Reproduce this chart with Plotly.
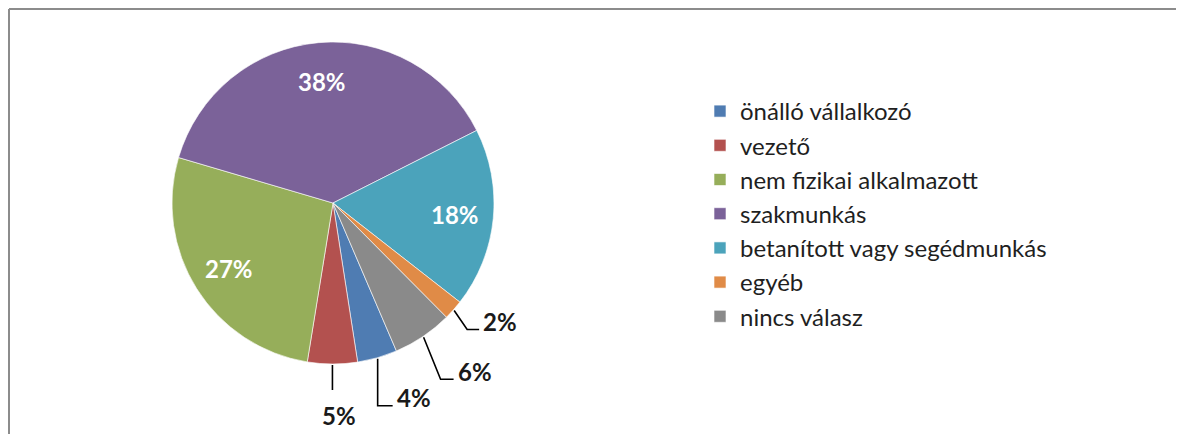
import math
import plotly.graph_objects as go

# ---- data ----
categories = ["önálló vállalkozó", "vezető", "nem fizikai alkalmazott", "szakmunkás",
              "betanított vagy segédmunkás", "egyéb", "nincs válasz"]
values = [4, 5, 27, 38, 18, 2, 6]
colors = ["#4f7cb2", "#b3514f", "#96ae5a", "#7b6299", "#4ba3bb", "#e08b47", "#8a8a8a"]
label_texts = [f"{v}%" for v in values]

# ---- geometry / style (page pixel coordinates) ----
W, H = 1184, 434
OFF = 8                             # page body margin
cx, cy, R = 333, 203, 161          # pie centre and radius on the page
rotation = 156.8                    # start angle of first slice (clockwise from 12 o'clock)
inside_frac = 0.76                  # radius fraction for inside labels
FONT = "Lato"
LBL_SIZE = 24

# leader-line style for small slices: (elbow dx, elbow dy, horizontal length, text mode)
leader = {
    "önálló vállalkozó": (0, 47, 15, "right"),
    "vezető": (0, 25, 0, "below"),
    "egyéb": (13, 19, 12, "right"),
    "nincs válasz": (17, 42, 13, "right"),
}


def px2paper(x, y):
    return (x - OFF) / W, 1 - (y - OFF) / H


fig = go.Figure()
d0 = px2paper(cx - R, cy + R)
d1 = px2paper(cx + R, cy - R)
fig.add_trace(go.Pie(
    labels=categories, values=values, sort=False, direction="clockwise",
    rotation=rotation, textinfo="none", hoverinfo="label+percent",
    marker=dict(colors=colors, line=dict(color="rgba(255,255,255,0.6)", width=1)),
    domain=dict(x=[d0[0], d1[0]], y=[d0[1], d1[1]]),
))

annotations = []
shapes = []
total = sum(values)
cum = 0
for cat, v, txt in zip(categories, values, label_texts):
    a = math.radians(rotation + (cum + v / 2) / total * 360)
    cum += v
    if cat not in leader:
        r = inside_frac * R
        x, y = cx + r * math.sin(a), cy - r * math.cos(a)
        px, py = px2paper(x, y)
        annotations.append(dict(x=px, y=py, xref="paper", yref="paper", text=f"<b>{txt}</b>",
                                xanchor="center", yanchor="middle",
                                showarrow=False, font=dict(family=FONT, size=LBL_SIZE, color="white")))
    else:
        dx, dy, hl, mode = leader[cat]
        ex, ey = cx + (R + 1) * math.sin(a), cy - (R + 1) * math.cos(a)
        bx, by = ex + dx, ey + dy
        fx, fy = bx + hl, by
        p0, p1, p2 = px2paper(ex, ey), px2paper(bx, by), px2paper(fx, fy)
        shapes.append(dict(type="path", xref="paper", yref="paper",
                           path=f"M {p0[0]},{p0[1]} L {p1[0]},{p1[1]} L {p2[0]},{p2[1]}",
                           line=dict(color="#000000", width=1.6)))
        if mode == "right":
            tx, ty = px2paper(fx + 2, fy - 8)
            annotations.append(dict(x=tx, y=ty, xref="paper", yref="paper", xanchor="left",
                                    yanchor="middle", text=f"<b>{txt}</b>", showarrow=False,
                                    font=dict(family=FONT, size=LBL_SIZE, color="#1a1a1a")))
        else:
            tx, ty = px2paper(fx + 7, fy + 26)
            annotations.append(dict(x=tx, y=ty, xref="paper", yref="paper", xanchor="center",
                                    yanchor="middle", text=f"<b>{txt}</b>", showarrow=False,
                                    font=dict(family=FONT, size=LBL_SIZE, color="#1a1a1a")))

# chart-area border (top and left visible); kept just inside the figure's top-left corner
bx0, by0 = px2paper(OFF + 1, OFF + 1)
shapes.append(dict(type="line", xref="paper", yref="paper", x0=bx0, x1=1.02, y0=by0, y1=by0,
                   line=dict(color="#8c8c8c", width=2)))
shapes.append(dict(type="line", xref="paper", yref="paper", x0=bx0, x1=bx0, y0=by0, y1=-0.02,
                   line=dict(color="#8c8c8c", width=2)))

lx, ly = px2paper(700, 89)
fig.update_layout(
    width=W, height=H,
    margin=dict(l=0, r=0, t=0, b=0),
    paper_bgcolor="white", plot_bgcolor="white",
    showlegend=True,
    legend=dict(x=lx, y=ly, xanchor="left", yanchor="top",
                font=dict(family=FONT, size=24, color="#1f1f1f"),
                bgcolor="rgba(0,0,0,0)", traceorder="normal"),
    annotations=annotations,
    shapes=shapes,
)

fig.write_html("out.html")
